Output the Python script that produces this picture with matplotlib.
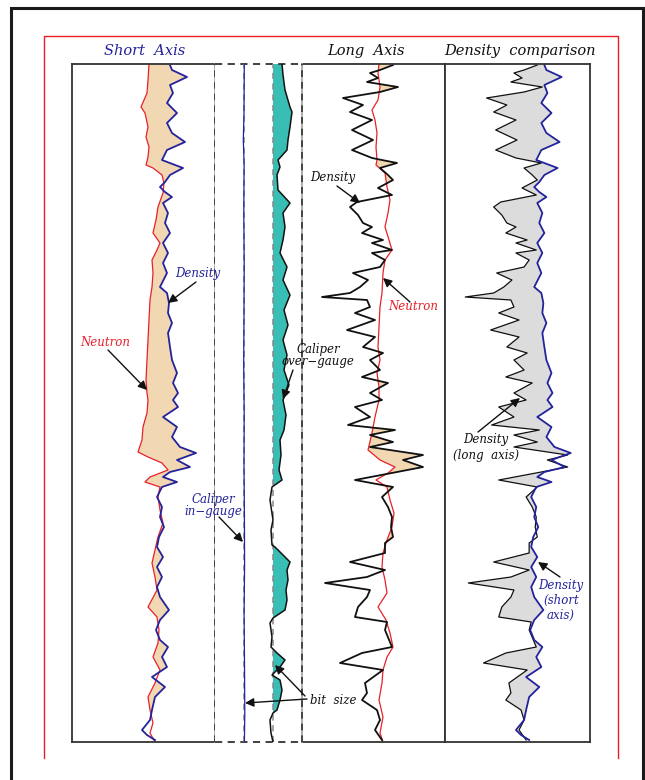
import numpy as np
import matplotlib
matplotlib.use("Agg")
import matplotlib.pyplot as plt

plt.rcParams["font.family"] = ["DejaVu Serif"]
plt.rcParams["lines.solid_joinstyle"] = "round"

# depth below top of section (ft) and readings in track units (0 = left edge)
# short axis log (track 1)
depth_neu_s = [0, 16, 29, 43, 49, 63, 73, 83, 93, 101, 104, 111, 119, 129, 143, 156, 169, 179,
               186, 196, 209, 223, 236, 256, 276, 296, 316, 329, 336, 349, 363, 376, 388, 393,
               399, 406, 413, 418, 423, 433, 446, 459, 473, 486, 499, 513, 526, 543, 553, 566,
               579, 593, 606, 619, 633, 646, 659, 669, 678]
neutron_s = [77, 76, 75, 69, 73, 76, 74, 77, 76, 74, 81, 90, 92, 91, 86, 84, 81, 88,
             85, 80, 81, 80, 78, 77, 76, 75, 74, 75, 76, 75, 71, 70, 66, 76,
             90, 96, 78, 73, 88, 86, 88, 91, 86, 83, 80, 83, 85, 76, 85, 87,
             86, 81, 88, 83, 76, 78, 81, 78, 83]

depth_den_s = [1, 6, 13, 21, 29, 39, 49, 59, 69, 78, 86, 96, 104, 111, 118, 123, 128, 133,
               139, 149, 159, 169, 179, 189, 199, 209, 223, 229, 239, 249, 259, 269, 283, 296,
               309, 319, 329, 336, 343, 353, 363, 373, 383, 389, 396, 403, 408, 413, 418, 423,
               433, 443, 453, 463, 473, 483, 493, 503, 513, 523, 533, 546, 556, 566, 576, 583,
               593, 603, 613, 623, 633, 646, 656, 666, 671, 676]
density_s = [98, 100, 115, 98, 101, 95, 105, 95, 100, 113, 95, 90, 111, 98, 93, 88, 93, 100,
             91, 96, 93, 98, 91, 96, 91, 95, 88, 95, 97, 96, 100, 96, 98, 100,
             105, 101, 106, 101, 106, 91, 105, 100, 108, 124, 105, 118, 98, 91, 105, 90,
             85, 90, 88, 92, 87, 85, 91, 85, 90, 85, 88, 97, 88, 84, 88, 96,
             90, 95, 80, 93, 83, 80, 78, 70, 75, 83]

# long axis log (track 3)
depth_neu_l = [0, 9, 23, 36, 46, 56, 69, 83, 96, 101, 109, 123, 136, 149, 163, 176, 186, 196,
               209, 229, 243, 263, 283, 296, 309, 323, 336, 353, 369, 386, 396, 403, 409, 416,
               423, 436, 449, 463, 476, 489, 503, 516, 529, 543, 556, 569, 583, 593, 606, 619,
               636, 653, 669, 678]
neutron_l = [77, 76, 78, 76, 70, 73, 75, 74, 75, 74, 83, 85, 88, 86, 83, 87, 90, 83,
             81, 80, 78, 77, 76, 78, 75, 77, 77, 73, 70, 66, 78, 93, 86, 74,
             85, 88, 92, 90, 85, 81, 80, 83, 85, 76, 84, 88, 91, 85, 81, 80,
             77, 81, 78, 81]

depth_den_l = [1, 6, 9, 14, 18, 23, 28, 34, 41, 48, 56, 66, 76, 86, 94, 99, 104, 111,
               116, 124, 131, 138, 143, 151, 159, 163, 169, 176, 179, 186, 189, 196, 203, 209,
               216, 223, 229, 233, 236, 243, 249, 256, 266, 273, 283, 289, 296, 306, 313, 319,
               329, 336, 343, 353, 361, 366, 371, 378, 383, 391, 396, 403, 408, 416, 423, 433,
               443, 453, 463, 473, 479, 489, 498, 506, 513, 519, 526, 533, 543, 553, 558, 566,
               583, 589, 599, 606, 619, 629, 636, 646, 656, 666, 676]
density_l = [91, 78, 68, 76, 65, 96, 78, 41, 61, 48, 70, 50, 71, 50, 70, 95, 78, 86,
             91, 76, 90, 55, 48, 56, 61, 70, 60, 81, 70, 90, 70, 83, 78, 51,
             66, 58, 48, 20, 65, 68, 53, 73, 45, 73, 61, 81, 68, 78, 60, 86,
             68, 80, 53, 68, 46, 93, 68, 91, 68, 121, 101, 121, 95, 53, 91, 80,
             86, 90, 89, 91, 83, 83, 48, 83, 65, 23, 68, 65, 56, 53, 85, 83,
             90, 60, 38, 81, 63, 65, 60, 75, 78, 73, 80]

# calipers (track 2), bit size marks for each arm
bit_short = 29
bit_long = 58
depth_cal_s = [0, 50, 76, 100, 150, 200, 250, 300, 350, 400, 450, 500, 550, 600, 650, 678]
caliper_s = [29.3, 29.0, 28.3, 29.1, 28.8, 29.2, 29.0, 28.7, 29.2, 29.0, 29.4, 29.6, 29.1, 29.5, 29.8, 29.4]

depth_cal_l = [0, 11, 26, 43, 48, 63, 76, 86, 96, 103, 111, 126, 139, 149, 163, 176, 189, 203,
               216, 231, 246, 261, 276, 291, 306, 321, 336, 351, 366, 376, 391, 406, 416, 423,
               436, 456, 466, 481, 483, 498, 506, 516, 526, 536, 546, 554, 559, 573, 583, 589,
               596, 603, 608, 611, 616, 626, 636, 646, 649, 656, 669, 678]
caliper_l = [67, 68, 70, 75, 77, 75, 73, 72, 63, 65, 62, 63, 75, 68, 70, 68, 65, 72,
             68, 75, 69, 73, 68, 72, 69, 74, 68, 71, 69, 65, 66, 64, 67, 57,
             55, 58, 56, 57, 60, 75, 72, 73, 71, 72, 70, 58, 55, 57, 56, 62,
             70, 65, 60, 57, 65, 67, 65, 62, 58, 55, 56, 58]

W, H = 645, 780
fig = plt.figure(figsize=(W / 100, H / 100), dpi=100)


def box(x0, x1, y0=64, y1=742):
    return [x0 / W, 1 - y1 / H, (x1 - x0) / W, (y1 - y0) / H]


DEPTH_MAX = 678
RED = "#e8202a"
NAVY = "#23239b"
EDGE = "#333333"


def track(x0, x1, xmax):
    ax = fig.add_axes(box(x0, x1))
    ax.set_xlim(0, xmax)
    ax.set_ylim(DEPTH_MAX, 0)
    ax.set_xticks([])
    ax.set_yticks([])
    for s in ax.spines.values():
        s.set_color(EDGE)
        s.set_linewidth(1.3)
    return ax


def split_edge(ax, x):
    ax.axvline(x, color="#a0a0a0", lw=1.2, clip_on=False, zorder=5)
    ax.axvline(x, color=EDGE, lw=1.2, ls=(0, (4, 3)), clip_on=False, zorder=6)


def interp_pair(d1, v1, d2, v2):
    grid = np.union1d(np.asarray(d1, float), np.asarray(d2, float))
    return grid, np.interp(grid, d1, v1), np.interp(grid, d2, v2)


# track 1: short axis density / neutron
ax1 = track(72, 215, 143)
ax1.spines["right"].set_visible(False)
split_edge(ax1, 143)
g, n1, d1 = interp_pair(depth_neu_s, neutron_s, depth_den_s, density_s)
ax1.fill_betweenx(g, n1, d1, where=d1 > n1, interpolate=True, color="#f2d7b3", lw=0)
ax1.plot(neutron_s, depth_neu_s, color=RED, lw=0.9)
ax1.plot(density_s, depth_den_s, color=NAVY, lw=1.3)

# track 2: calipers
ax2 = track(215, 302, 87)
for s in ax2.spines.values():
    s.set_visible(False)
for yy in (0, DEPTH_MAX):
    ax2.axhline(yy, color=EDGE, lw=1.3, ls=(0, (4, 3)), clip_on=False)
ax2.axvline(bit_short, color="#888888", lw=1.1, ls=(0, (4, 3)))
ax2.axvline(bit_long, color="#888888", lw=1.1, ls=(0, (4, 3)))
cl = np.array(caliper_l, float)
cd = np.array(depth_cal_l, float)
ax2.fill_betweenx(cd, bit_long, cl, where=cl > bit_long, interpolate=True, color="#38beb4", lw=0)
ax2.plot(caliper_l, depth_cal_l, color="#111111", lw=1.1)
ax2.plot(caliper_s, depth_cal_s, color=NAVY, lw=0.9)

# track 3: long axis density / neutron
ax3 = track(302, 445, 143)
ax3.spines["left"].set_visible(False)
split_edge(ax3, 0)
g, n3, d3 = interp_pair(depth_neu_l, neutron_l, depth_den_l, density_l)
ax3.fill_betweenx(g, n3, d3, where=d3 > n3, interpolate=True, color="#f2d7b3", lw=0)
ax3.plot(neutron_l, depth_neu_l, color=RED, lw=0.9)
ax3.plot(density_l, depth_den_l, color="#111111", lw=1.3)

# track 4: both densities overlaid
ax4 = track(445, 590, 143)
g, dl, ds = interp_pair(depth_den_l, density_l, depth_den_s, density_s)
ax4.fill_betweenx(g, dl, ds, where=dl < ds, interpolate=True, color="#dcdcdc", lw=0)
ax4.plot(density_l, depth_den_l, color="#111111", lw=0.9)
ax4.plot(density_s, depth_den_s, color=NAVY, lw=1.3)

# overlay for frames, titles and callouts (pixel layout)
ov = fig.add_axes([0, 0, 1, 1], zorder=10)
ov.set_xlim(0, W)
ov.set_ylim(H, 0)
ov.axis("off")
ov.patch.set_alpha(0)

ov.plot([11, 11, 643, 643], [H, 8, 8, H], color="#1a1a1a", lw=2.2, solid_joinstyle="miter")
ov.plot([43.5, 43.5, 617.5, 617.5], [758, 35.5, 35.5, 758], color="#ee1c25", lw=1.0,
        solid_joinstyle="miter")

title_kw = dict(fontsize=10.5, style="italic", ha="center", va="center")
ov.text(145, 51, "Short  Axis", color=NAVY, **title_kw)
ov.text(366, 51, "Long  Axis", color="#111111", **title_kw)
ov.text(520, 51, "Density  comparison", color="#111111", **title_kw)

lab = dict(fontsize=8.5, style="italic", va="center")
arrow = dict(arrowstyle="-|>", color="#111111", lw=1.0, mutation_scale=13, shrinkA=0, shrinkB=0)


def callout(lines, x, y, color, tail, tip, ha="left", step=13):
    for i, s in enumerate(lines):
        ov.text(x, y + i * step, s, color=color, ha=ha, **lab)
    ov.annotate("", xy=tip, xytext=tail, arrowprops=arrow)


callout(["Density"], 175, 273, NAVY, (196, 282), (168, 303))
callout(["Neutron"], 80, 342, RED, (108, 350), (147, 390))
callout(["Caliper", "in\u2212gauge"], 213, 499, NAVY, (219, 517), (243, 542), ha="center")
callout(["Caliper", "over\u2212gauge"], 318, 350, "#111111", (293, 370), (283, 399), ha="center", step=12)
callout(["Density"], 310, 178, "#111111", (337, 186), (360, 203))
callout(["Neutron"], 388, 307, RED, (410, 302), (383, 278))
callout(["bit  size"], 310, 700, "#111111", (307, 699), (245, 703))
ov.annotate("", xy=(275, 665), xytext=(305, 696), arrowprops=arrow)
callout(["Density", "(long  axis)"], 486, 440, "#111111", (478, 432), (520, 398), ha="center", step=16)
callout(["Density", "(short", "axis)"], 561, 585, NAVY, (560, 577), (538, 562), ha="center", step=15)

fig.savefig("out.png", dpi=100)
